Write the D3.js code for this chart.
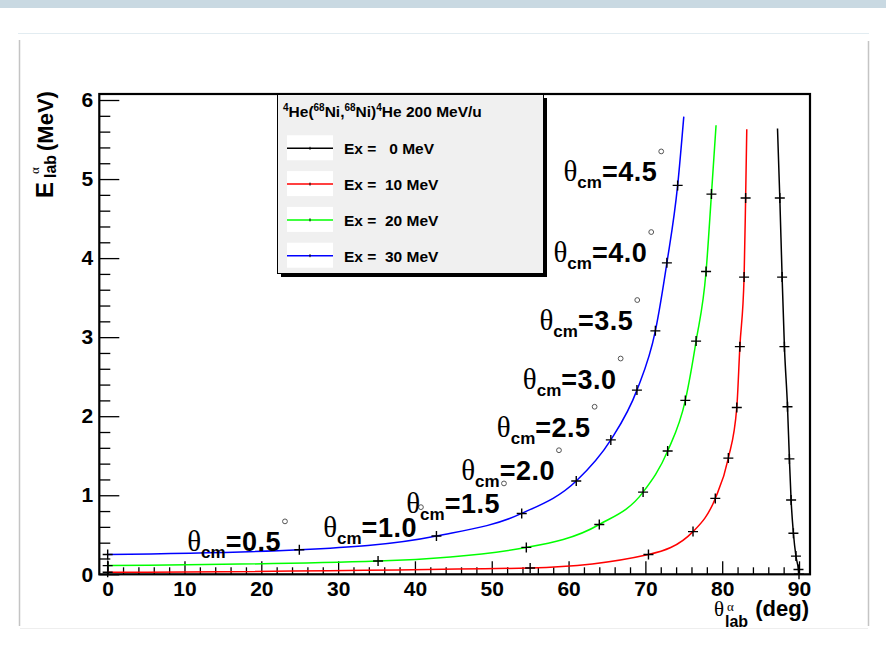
<!DOCTYPE html>
<html>
<head>
<meta charset="utf-8">
<title>alpha recoil kinematics</title>
<script src="https://cdn.jsdelivr.net/npm/d3@7"></script>
<style>
  body { margin: 0; background: #fff; }
  svg { display: block; font-family: "Liberation Sans", Arial, sans-serif; }
</style>
</head>
<body>
<svg id="chart" width="886" height="653"></svg>
<script>
// lab angle (deg) / alpha energy (MeV),
// one "+" marker per 0.5 deg of theta_cm (0 ... 4.5)
var exLabels = ["Ex =   0 MeV", "Ex =  10 MeV", "Ex =  20 MeV", "Ex =  30 MeV"];

var theta0  = [90.0, 89.93, 89.6, 89.27, 88.97, 88.75, 88.5, 88.1, 87.8, 87.5];
var energy0 = [0.0, 0.06, 0.23, 0.52, 0.94, 1.46, 2.12, 2.88, 3.76, 4.76];
var theta10  = [0, 55.0, 70.4, 76.2, 79.1, 80.8, 81.9, 82.3, 82.85, 83.05];
var energy10 = [0.025, 0.08, 0.25, 0.54, 0.96, 1.47, 2.11, 2.88, 3.76, 4.76];
var theta20  = [0, 35.2, 54.5, 64.0, 69.7, 72.9, 75.2, 76.6, 77.9, 78.6];
var energy20 = [0.11, 0.168, 0.34, 0.63, 1.04, 1.56, 2.20, 2.95, 3.83, 4.81];
var theta30  = [0, 24.95, 42.8, 53.9, 61.0, 65.5, 68.9, 71.3, 72.8, 74.2];
var energy30 = [0.25, 0.31, 0.485, 0.77, 1.18, 1.70, 2.33, 3.08, 3.94, 4.92];

// where each curve stops at the top
var endTheta  = [87.2, 83.2, 79.2, 75.0];
var endEnergy = [5.64, 5.63, 5.68, 5.79];

// theta_cm labels (right end of text, baseline) in data units
var cmLabels    = ["0.5", "1.0", "1.5", "2.0", "2.5", "3.0", "3.5", "4.0", "4.5"];
var labelTheta  = [22.56, 40.26, 51.07, 58.23, 62.87, 66.26, 68.42, 70.24, 71.54];
var labelEnergy = [0.29, 0.47, 0.77, 1.19, 1.74, 2.35, 3.09, 3.95, 4.97];

var xTicks = [0, 10, 20, 30, 40, 50, 60, 70, 80, 90];
var yTicks = [0, 1, 2, 3, 4, 5, 6];

var colors = ["#000000", "#ff0000", "#00ff00", "#0000ff"];
var thetas = [theta0, theta10, theta20, theta30];
var energies = [energy0, energy10, energy20, energy30];

var svg = d3.select("#chart");

// page decoration around the canvas
svg.append("rect").attr("x", 0).attr("y", 0).attr("width", 886).attr("height", 8).attr("fill", "#c9d9e2");
svg.append("line").attr("x1", 18).attr("x2", 869).attr("y1", 33.5).attr("y2", 33.5).attr("stroke", "#e2ecf1");
svg.append("line").attr("x1", 19.5).attr("x2", 19.5).attr("y1", 40).attr("y2", 626).attr("stroke", "#c4c4c4").attr("stroke-width", 1.5);
svg.append("line").attr("x1", 868.5).attr("x2", 868.5).attr("y1", 41).attr("y2", 626).attr("stroke", "#c4c4c4").attr("stroke-width", 1.5);
svg.append("line").attr("x1", 20).attr("x2", 868).attr("y1", 628.5).attr("y2", 628.5).attr("stroke", "#eeeeee");

var x = d3.scaleLinear().domain([-1.09, 91.43]).range([99.3, 810]);
var y = d3.scaleLinear().domain([0, 6.076]).range([574.3, 94]);

// axes: ticks point inwards
svg.append("g").attr("transform", "translate(0," + y(0) + ")")
  .call(d3.axisBottom(x).tickValues(xTicks).tickFormat(d3.format("d"))
    .tickSizeInner(-13).tickSizeOuter(0).tickPadding(7));
svg.append("g").attr("transform", "translate(0," + y(0) + ")")
  .call(d3.axisBottom(x).tickValues(d3.range(0, 91, 2).filter(function (d) { return d % 10; }))
    .tickSizeInner(-7).tickSizeOuter(0).tickFormat(""));
svg.append("g").attr("transform", "translate(" + x.range()[0] + ",0)")
  .call(d3.axisLeft(y).tickValues(yTicks).tickFormat(d3.format("d"))
    .tickSizeInner(-20).tickSizeOuter(0).tickPadding(6));
svg.append("g").attr("transform", "translate(" + x.range()[0] + ",0)")
  .call(d3.axisLeft(y).tickValues(d3.range(0.2, 6.05, 0.2).filter(function (d) { return Math.abs(d - Math.round(d)) > 0.01; }))
    .tickSizeInner(-11).tickSizeOuter(0).tickFormat(""));
svg.selectAll(".domain").remove();
svg.selectAll(".tick line").attr("stroke", "#000").attr("stroke-width", 1.3);
svg.selectAll(".tick text").attr("font-family", "Liberation Sans, Arial, sans-serif")
  .attr("font-size", 21).attr("font-weight", "bold").attr("fill", "#000");

// frame
svg.append("rect").attr("x", x.range()[0]).attr("y", y.range()[1])
  .attr("width", x.range()[1] - x.range()[0]).attr("height", y.range()[0] - y.range()[1])
  .attr("fill", "none").attr("stroke", "#000").attr("stroke-width", 2.2);

// curves
var line = d3.line().x(function (d) { return x(d[0]); }).y(function (d) { return y(d[1]); })
  .curve(d3.curveMonotoneX);

thetas.forEach(function (th, i) {
  var pts = th.map(function (t, j) { return [t, energies[i][j]]; });
  var all = pts.concat([[endTheta[i], endEnergy[i]]]).sort(function (a, b) { return a[0] - b[0]; });
  svg.append("path").attr("d", line(all)).attr("fill", "none")
    .attr("stroke", colors[i]).attr("stroke-width", 1.5);
  svg.append("g").selectAll("path").data(pts).enter().append("path")
    .attr("d", function (d) {
      var px = x(d[0]), py = y(d[1]);
      return "M" + (px - 5) + "," + py + "H" + (px + 5) + "M" + px + "," + (py - 5) + "V" + (py + 5);
    })
    .attr("stroke", "#000").attr("stroke-width", 1.4);
});

// theta_cm labels
cmLabels.forEach(function (lab, i) {
  var lx = x(labelTheta[i]), ly = y(labelEnergy[i]);
  var t = svg.append("text").attr("x", lx).attr("y", ly).attr("text-anchor", "end")
    .attr("font-weight", "bold").attr("fill", "#000");
  t.append("tspan").attr("font-family", "Liberation Serif, serif").attr("font-weight", "normal")
    .attr("font-size", 29).text("\u03b8");
  t.append("tspan").attr("font-size", 17).attr("dy", 7).text("cm");
  t.append("tspan").attr("font-size", 27).attr("dy", -7).attr("letter-spacing", 0.5).text("=" + lab);
  svg.append("circle").attr("cx", lx + 4).attr("cy", ly - 30).attr("r", 2.4)
    .attr("fill", "none").attr("stroke", "#555").attr("stroke-width", 1);
});

// axis titles
var xt = svg.append("g").attr("font-weight", "bold").attr("fill", "#000");
xt.append("text").attr("x", 714).attr("y", 616).attr("font-family", "Liberation Serif, serif")
  .attr("font-weight", "normal").attr("font-size", 21).text("\u03b8");
xt.append("text").attr("x", 727).attr("y", 611).attr("font-family", "Liberation Serif, serif")
  .attr("font-weight", "normal").attr("font-size", 13).text("\u03b1");
xt.append("text").attr("x", 725).attr("y", 627).attr("font-size", 16).text("lab");
xt.append("text").attr("x", 809).attr("y", 616).attr("text-anchor", "end").attr("font-size", 22).text("(deg)");

var yt = svg.append("g").attr("transform", "translate(53,198) rotate(-90)")
  .attr("font-weight", "bold").attr("fill", "#000");
yt.append("text").attr("x", 0).attr("y", 0).attr("font-size", 24).text("E");
yt.append("text").attr("x", 24).attr("y", -14).attr("font-family", "Liberation Serif, serif")
  .attr("font-weight", "normal").attr("font-size", 13).text("\u03b1");
yt.append("text").attr("x", 20).attr("y", 3).attr("font-size", 16).text("lab");
yt.append("text").attr("x", 47).attr("y", 0).attr("font-size", 22).text("(MeV)");

// legend
var lg = svg.append("g");
lg.append("rect").attr("x", 281).attr("y", 98).attr("width", 266).attr("height", 179).attr("fill", "#000");
lg.append("rect").attr("x", 277.5).attr("y", 94.5).attr("width", 266).attr("height", 179)
  .attr("fill", "#f0f0f0").attr("stroke", "#000").attr("stroke-width", 1);

var title = lg.append("text").attr("x", 283).attr("y", 117).attr("font-size", 15)
  .attr("font-weight", "bold").attr("fill", "#000");
[["4", true], ["He(", false], ["68", true], ["Ni,", false], ["68", true], ["Ni)", false],
 ["4", true], ["He 200 MeV/u", false]].forEach(function (p, k, arr) {
  var prevSup = k > 0 && arr[k - 1][1];
  var dy = p[1] ? -6 : (prevSup ? 6 : 0);
  title.append("tspan").attr("font-size", p[1] ? 10 : 15.5).attr("dy", dy).text(p[0]);
});

exLabels.forEach(function (lab, i) {
  var ly = 148.3 + i * 35.8;
  lg.append("rect").attr("x", 287).attr("y", ly - 13).attr("width", 46).attr("height", 25).attr("fill", "#fff");
  lg.append("line").attr("x1", 287).attr("x2", 333).attr("y1", ly).attr("y2", ly)
    .attr("stroke", colors[i]).attr("stroke-width", 1.5);
  lg.append("line").attr("x1", 310).attr("x2", 310).attr("y1", ly - 1.5).attr("y2", ly + 1.5)
    .attr("stroke", "#000").attr("stroke-width", 1);
  lg.append("text").attr("x", 344).attr("y", ly + 6).attr("font-size", 15.5).attr("font-weight", "bold")
    .style("white-space", "pre").attr("fill", "#000").text(lab);
});
</script>
</body>
</html>
